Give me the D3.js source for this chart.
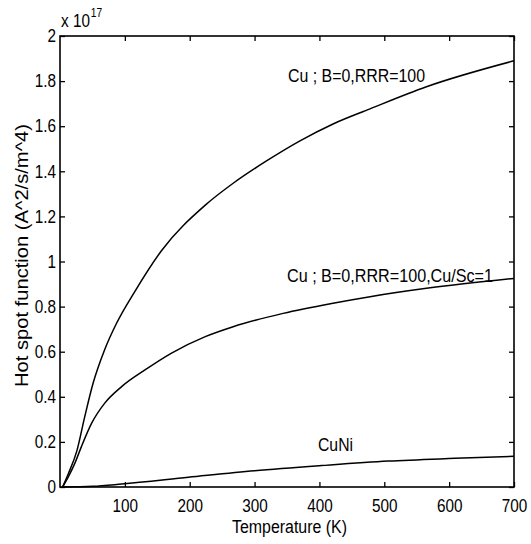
<!DOCTYPE html>
<html><head><meta charset="utf-8">
<script src="https://cdn.jsdelivr.net/npm/d3@7/dist/d3.min.js"></script>
<style>
body{margin:0;background:#fff;}
text{font-family:"Liberation Sans",Arial,sans-serif;fill:#000;}
</style></head>
<body>
<svg id="c" width="531" height="544"></svg>
<script>
const xTicks = [100,200,300,400,500,600,700];
const yTicks = [0,0.2,0.4,0.6,0.8,1,1.2,1.4,1.6,1.8,2];

const cuT = [4,13,26,38,51,69,87,116,157,224,267,319,370,421,478,565,700];
const cuV = [0,0.06,0.16,0.31,0.46,0.61,0.725,0.87,1.05,1.25,1.347,1.447,1.535,1.61,1.677,1.775,1.89];

const cuScT = [4,13,23,33,49,69,95,131,172,224,267,344,421,478,565,700];
const cuScV = [0,0.046,0.106,0.179,0.284,0.372,0.445,0.519,0.594,0.667,0.711,0.77,0.815,0.844,0.881,0.925];

const cuNiT = [4,50,95,198,300,403,506,609,700];
const cuNiV = [0,0.003,0.013,0.043,0.072,0.095,0.115,0.127,0.136];

const labels = ["Cu ; B=0,RRR=100","Cu ; B=0,RRR=100,Cu/Sc=1","CuNi"];

const svg = d3.select("#c");
const L=60,R=514,T=36,B=487;
const x = d3.scaleLinear().domain([0,700]).range([L,R]);
const y = d3.scaleLinear().domain([0,2]).range([B,T]);

const fs = 18, sx = 0.85;
// axes
const ax = svg.append("g").attr("transform",`translate(0,${B})`)
  .call(d3.axisBottom(x).tickValues(xTicks).tickSize(-5).tickPadding(12).tickFormat(d3.format("d")));
const ay = svg.append("g").attr("transform",`translate(${L},0)`)
  .call(d3.axisLeft(y).tickValues(yTicks).tickSize(-5).tickPadding(4).tickFormat(d=>String(+d.toFixed(1))));
const at = svg.append("g").attr("transform",`translate(0,${T})`)
  .call(d3.axisTop(x).tickValues(xTicks).tickSize(-5).tickFormat(""));
const ar = svg.append("g").attr("transform",`translate(${R},0)`)
  .call(d3.axisRight(y).tickValues(yTicks).tickSize(-5).tickFormat(""));
[ax,ay,at,ar].forEach(g=>{
  g.select(".domain").remove();
  g.selectAll("line").attr("stroke","#000").attr("stroke-width",1.3);
  g.selectAll("text").style("font-size",fs+"px").style("font-family",null)
    .attr("x",function(){return (+d3.select(this).attr("x")||0)/sx;})
    .attr("transform",`scale(${sx},1)`);
});
svg.append("rect").attr("x",L).attr("y",T).attr("width",R-L).attr("height",B-T)
  .attr("fill","none").attr("stroke","#000").attr("stroke-width",1.6);

const line = d3.line().x(d=>x(d[0])).y(d=>y(d[1])).curve(d3.curveMonotoneX);
[[cuT,cuV],[cuScT,cuScV],[cuNiT,cuNiV]].forEach(([t,v])=>{
  svg.append("path").datum(t.map((d,i)=>[d,v[i]])).attr("d",line)
    .attr("fill","none").attr("stroke","#000").attr("stroke-width",1.5);
});

function lab(txt,px,py,w,size){
  return svg.append("text").attr("x",px).attr("y",py).style("font-size",(size||fs)+"px")
    .attr("textLength",w).attr("lengthAdjust","spacingAndGlyphs").text(txt);
}
// curve labels
lab(labels[0],288,82,137);
lab(labels[1],287,282,206);
lab(labels[2],318,451,35);

// axis titles
lab("Temperature (K)",232,533,115);
svg.append("text").attr("transform",`translate(28,${256+131}) rotate(-90)`)
  .style("font-size",fs+"px").attr("textLength",263).attr("lengthAdjust","spacingAndGlyphs")
  .text("Hot spot function (A^2/s/m^4)");

// exponent (single text with superscript tspan)
const ex = svg.append("text").attr("x",61/sx).attr("y",27).attr("transform",`scale(${sx},1)`)
  .style("font-size",fs+"px");
ex.append("tspan").text("x 10");
ex.append("tspan").attr("dx",1).attr("dy",-10).style("font-size","12px").text("17");
</script>
</body></html>
